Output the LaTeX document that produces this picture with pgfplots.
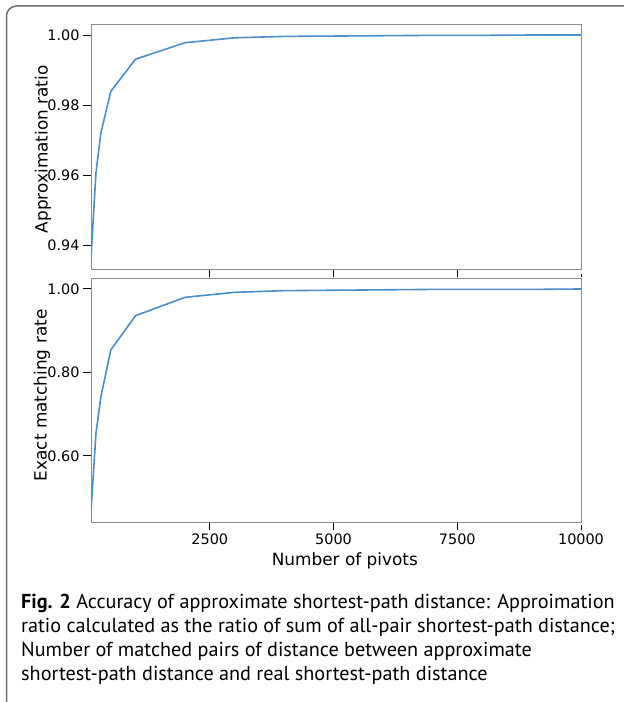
\documentclass[border=0pt]{standalone}
\usepackage{pgfplots}
\pgfplotsset{compat=1.18}
\usepackage{fontspec}
\setmainfont{DejaVu Sans}
\newfontfamily\capfont{PT Sans}
\definecolor{lineblue}{RGB}{75,142,200}
\definecolor{spine}{RGB}{140,140,140}
\definecolor{framecol}{RGB}{110,110,110}

\pgfplotstableread{
x y
100 0.9363
200 0.9606
300 0.9720
500 0.9839
1000 0.9931
2000 0.9978
3000 0.9992
4000 0.9996
5000 0.9997
6000 0.9998
7000 0.9999
8000 0.9999
9000 1.0000
10000 1.0000
}\ratiodata

\pgfplotstableread{
x y
100 0.467
200 0.654
300 0.742
500 0.854
1000 0.936
2000 0.980
3000 0.992
4000 0.996
5000 0.997
6000 0.998
7000 0.999
8000 0.999
9000 0.999
10000 1.000
}\matchdata

\pgfplotsset{
  common/.style={
    scale only axis,
    width=490pt,
    xmin=100, xmax=10000,
    axis line style={spine, line width=1pt},
    tick style={black, line width=1pt},
    tick align=outside,
    ytick pos=left,
    xtick pos=bottom,
    xtick={2500,5000,7500,10000},
    /pgf/number format/assume math mode=true,
    ticklabel style={font=\fontsize{14.4}{16}\selectfont},
    label style={font=\fontsize{16.9}{19}\selectfont},
    yticklabel style={/pgf/number format/fixed, /pgf/number format/fixed zerofill, /pgf/number format/precision=2},
    scaled x ticks=false,
    xticklabel style={/pgf/number format/fixed, /pgf/number format/1000 sep={}},
    clip=true,
  },
}

\begin{document}
\begin{tikzpicture}[x=1pt,y=1pt]
\useasboundingbox (0,0) rectangle (624,702);
\draw[line width=1.5pt, framecol] (6.5,0) -- (6.5,686) arc[start angle=180,end angle=90,radius=10] -- (624,696);

\begin{axis}[common,
  at={(91pt,677.7pt)}, anchor=north west,
  height=245pt,
  ymin=0.93306, ymax=1.00306,
  ytick={0.94,0.96,0.98,1.00},
  major tick length=8pt,
  xtick style={black, line width=1pt, shorten >=5pt},
  xticklabels={},
  ylabel={Approximation ratio},
  ylabel style={at={(axis description cs:-0.098,0.49)}, anchor=center},
]
\addplot[lineblue, line width=1.6pt, mark=none] table[x=x,y=y] {\ratiodata};
\end{axis}

\begin{axis}[common,
  at={(91pt,423.7pt)}, anchor=north west,
  height=244pt,
  ymin=0.4412, ymax=1.0256,
  ytick={0.6,0.8,1.0},
  major tick length=8pt,
  xtick style={black, line width=1pt, shorten >=3pt},
  ylabel={Exact matching rate},
  ylabel style={at={(axis description cs:-0.1,0.52)}, anchor=center},
  xlabel={Number of pivots},
  xlabel style={at={(axis description cs:0.518,-0.159)}, anchor=center},
]
\addplot[lineblue, line width=1.6pt, mark=none] table[x=x,y=y] {\matchdata};
\end{axis}

\node[anchor=north west, inner sep=0pt, align=left, font=\capfont\fontsize{20.2}{24}\selectfont] at (21,108.5)
{{\bfseries Fig. 2} Accuracy of approximate shortest-path distance: Approimation\\
ratio calculated as the ratio of sum of all-pair shortest-path distance;\\
Number of matched pairs of distance between approximate\\
shortest-path distance and real shortest-path distance};
\end{tikzpicture}
\end{document}
